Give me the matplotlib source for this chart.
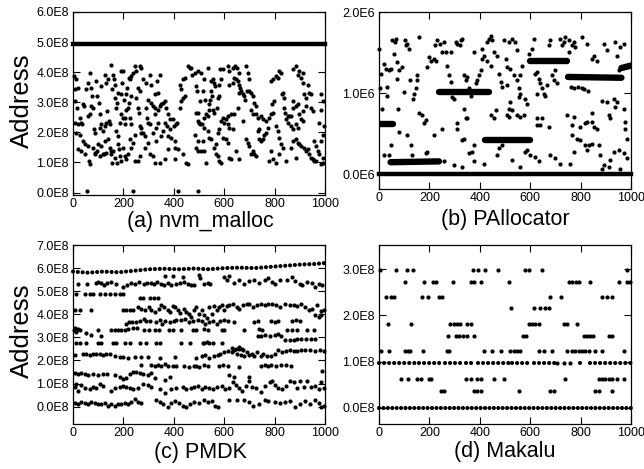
import matplotlib
matplotlib.use("Agg")
import matplotlib.pyplot as plt

plt.rcParams['font.family'] = ['Liberation Sans', 'DejaVu Sans']

# ---------------- (a) nvm_malloc, address in 1E8 ----------------
a_band_x = [0, 1000]
a_band_y = [4.95, 4.95]
a_pts = [
    (4, 3.87), (13, 3.76), (9, 3.43), (20, 3.48), (7, 3.04), (17, 2.82), (26, 2.49), (9, 2.32),
    (20, 2.27), (33, 2.32), (13, 1.99), (26, 1.93), (20, 1.44), (30, 1.38), (40, 1.71), (46, 1.60),
    (36, 2.27), (40, 2.93), (44, 2.87), (53, 3.43), (60, 3.65), (66, 3.98), (73, 3.48), (75, 3.20),
    (73, 2.87), (79, 2.82), (60, 2.54), (66, 2.60), (62, 1.05), (66, 0.94), (83, 2.10), (86, 1.99),
    (93, 3.70), (97, 3.20), (102, 2.98), (106, 2.60), (110, 3.54), (112, 2.27), (106, 2.15), (119, 2.04),
    (112, 1.55), (126, 2.21), (123, 1.27), (89, 1.27), (97, 1.38), (99, 1.60), (132, 2.32), (126, 3.92),
    (130, 3.65), (139, 3.76), (142, 2.38), (146, 2.27), (136, 2.71), (152, 1.38), (150, 1.27), (155, 3.43),
    (159, 3.92), (163, 3.76), (165, 3.59), (152, 4.25), (168, 3.15), (172, 2.82), (179, 1.60), (181, 1.44),
    (185, 1.22), (155, 0.99), (192, 4.03), (194, 3.65), (198, 4.03), (192, 2.60), (198, 2.49), (205, 2.27),
    (208, 2.49), (218, 2.82), (212, 2.76), (225, 2.49), (229, 2.27), (185, 2.32), (176, 2.98), (216, 3.48),
    (221, 3.81), (225, 3.76), (232, 3.87), (238, 3.98), (245, 4.20), (251, 4.03), (265, 4.20), (271, 4.14),
    (258, 3.48), (265, 3.37), (251, 3.15), (258, 2.82), (261, 2.65), (265, 2.21), (271, 2.15), (269, 1.99),
    (278, 1.99), (284, 1.88), (291, 2.82), (295, 2.49), (298, 2.32), (304, 2.27), (298, 3.09), (311, 2.98),
    (318, 2.87), (324, 2.82), (327, 2.60), (337, 2.76), (344, 2.87), (351, 2.93), (357, 2.98), (364, 3.04),
    (370, 2.82), (377, 2.60), (366, 2.32), (374, 2.21), (384, 2.10), (377, 1.88), (390, 1.82), (401, 2.21),
    (410, 2.27), (404, 1.71), (406, 1.49), (417, 1.44), (414, 2.32), (423, 2.82), (430, 3.04), (437, 3.15),
    (443, 3.20), (430, 3.43), (423, 3.59), (437, 3.76), (443, 3.81), (456, 4.20), (463, 4.14), (470, 4.14),
    (472, 3.92), (483, 3.98), (489, 3.54), (493, 3.37), (489, 2.65), (496, 2.38), (503, 2.27), (483, 1.93),
    (489, 1.49), (496, 1.38), (456, 0.94), (450, 0.99), (437, 1.27), (404, 1.10), (377, 1.44), (364, 1.10),
    (344, 0.99), (324, 0.99), (304, 1.27), (318, 1.22), (284, 1.49), (265, 1.22), (258, 1.05), (245, 1.05),
    (232, 1.49), (218, 1.27), (212, 1.10), (198, 1.49), (205, 1.22), (189, 1.05), (176, 0.99), (165, 1.16),
    (159, 1.38), (146, 1.49), (132, 1.33), (119, 1.27), (106, 1.22), (86, 1.33), (79, 1.49), (46, 1.27),
    (60, 1.55), (344, 3.92), (335, 3.70), (337, 3.31), (324, 3.26), (311, 3.59), (304, 3.92), (291, 3.65),
    (278, 3.76), (232, 3.20), (221, 2.98), (212, 3.26), (202, 3.09), (192, 3.26), (179, 3.31), (298, 1.66),
    (331, 1.71), (351, 1.88), (357, 2.04), (384, 2.43), (397, 2.43), (337, 2.32), (331, 2.15), (318, 1.99),
    (225, 1.77), (238, 1.66), (245, 1.93), (179, 1.88), (172, 2.04), (139, 1.77), (128, 1.71),
    (56, 0.05), (238, 0.05), (417, 0.05), (496, 0.05),
    (495, 4.03), (508, 3.98), (534, 4.14), (514, 3.37), (521, 3.76), (504, 3.04), (525, 3.09), (495, 2.65),
    (501, 2.32), (512, 2.27), (521, 2.49), (528, 2.60), (534, 2.54), (541, 2.93), (548, 3.70), (554, 3.76),
    (561, 3.65), (565, 3.54), (548, 3.37), (552, 3.20), (544, 3.09), (541, 2.76), (554, 2.76), (561, 2.65),
    (570, 2.82), (574, 3.15), (578, 3.20), (581, 3.59), (587, 3.76), (583, 4.09), (596, 4.09), (614, 4.20),
    (620, 4.03), (634, 4.14), (644, 4.20), (649, 4.14), (660, 3.98), (640, 3.81), (647, 3.76), (653, 3.70),
    (634, 3.65), (620, 3.59), (657, 3.59), (663, 3.48), (667, 3.37), (660, 3.31), (673, 3.26), (680, 3.20),
    (686, 4.20), (693, 3.98), (697, 3.76), (689, 3.37), (684, 3.09), (700, 3.37), (706, 3.31), (713, 3.20),
    (720, 2.98), (726, 2.87), (706, 2.76), (713, 2.60), (726, 2.60), (733, 2.49), (673, 2.38), (653, 2.82),
    (640, 2.60), (627, 2.60), (614, 2.54), (607, 2.43), (596, 2.49), (587, 2.38), (600, 2.32), (614, 2.27),
    (620, 2.15), (634, 2.10), (581, 2.10), (574, 1.99), (594, 1.82), (607, 1.77), (614, 1.66), (567, 1.60),
    (561, 1.49), (548, 1.77), (541, 1.82), (534, 2.04), (521, 2.15), (514, 1.71), (521, 1.38), (508, 1.38),
    (495, 1.71), (528, 0.99), (567, 1.27), (574, 1.22), (581, 1.05), (587, 0.99), (620, 1.16), (627, 1.10),
    (647, 1.38), (660, 1.10), (686, 1.77), (693, 1.66), (700, 1.55), (713, 1.38), (720, 1.27), (726, 1.22),
    (706, 1.27), (739, 1.77), (746, 1.71), (753, 1.77), (759, 1.93), (766, 1.99), (772, 2.15), (766, 2.38),
    (753, 2.43), (746, 2.54), (739, 2.10), (733, 2.04), (779, 2.49), (786, 2.60), (792, 2.65), (790, 2.93),
    (799, 3.04), (805, 2.21), (812, 2.04), (819, 1.82), (825, 1.60), (832, 1.49), (786, 1.38), (792, 1.10),
    (779, 1.05), (805, 0.99), (845, 1.05), (812, 3.81), (805, 3.87), (795, 3.76), (786, 3.70), (819, 4.03),
    (825, 3.98), (829, 3.26), (835, 3.31), (839, 3.15), (839, 2.82), (843, 2.65), (852, 2.54), (858, 2.54),
    (865, 2.54), (845, 2.43), (852, 2.32), (872, 3.04), (874, 2.82), (885, 2.87), (891, 2.93), (898, 2.60),
    (905, 2.43), (911, 2.38), (885, 2.27), (891, 2.15), (865, 2.21), (872, 2.10), (872, 1.71), (885, 1.77),
    (891, 1.66), (898, 1.60), (905, 1.55), (918, 1.49), (925, 1.38), (931, 1.44), (938, 1.27), (944, 1.16),
    (951, 1.10), (958, 1.05), (964, 1.05), (971, 1.38), (977, 1.27), (984, 0.94), (991, 0.99), (993, 1.16),
    (984, 1.71), (991, 1.93), (997, 2.21), (977, 2.32), (984, 2.76), (991, 3.04), (984, 3.26), (944, 3.26),
    (938, 3.31), (931, 3.59), (911, 3.65), (905, 3.81), (891, 3.92), (898, 4.03), (885, 4.20), (872, 4.09),
    (911, 3.98), (918, 3.26), (925, 3.15), (925, 2.87), (944, 2.82), (951, 2.71), (911, 2.71), (958, 1.71),
    (964, 1.55), (885, 1.16), (865, 1.49), (819, 1.27),
]
a_yticks = [0, 1, 2, 3, 4, 5, 6]

# ---------------- (b) PAllocator, address in 1E6 ----------------
b_band_x = [0, 1000]
b_band_y = [0.0, 0.0]
b_clu_x = [[0, 55], [46, 238], [238, 435], [420, 600], [598, 748], [750, 962], [962, 1000]]
b_clu_y = [[0.62, 0.62], [0.15, 0.16], [1.01, 1.01], [0.42, 0.42], [1.40, 1.40], [1.20, 1.19], [1.31, 1.34]]
b_pts = [
    (0, 1.55), (4, 1.06), (9, 1.24), (20, 1.36), (26, 1.30), (33, 1.08), (40, 1.28), (46, 1.30),
    (53, 1.65), (60, 1.48), (62, 1.63), (66, 1.67), (73, 1.38), (79, 1.28), (75, 0.81), (86, 0.16),
    (46, 0.36), (40, 0.24), (20, 0.24), (30, 0.97), (13, 0.81), (73, 1.18), (93, 1.32), (99, 1.01),
    (106, 1.59), (112, 1.61), (119, 1.55), (102, 1.66), (123, 1.16), (136, 0.93), (139, 0.99), (146, 1.06),
    (152, 1.22), (159, 1.69), (150, 1.16), (159, 0.75), (172, 0.73), (179, 0.63), (128, 0.36), (132, 0.24),
    (185, 0.26), (189, 0.28), (192, 1.32), (198, 1.44), (208, 1.40), (218, 1.42), (225, 1.40), (221, 1.59),
    (232, 1.65), (242, 1.61), (251, 1.51), (258, 1.63), (265, 1.51), (271, 1.34), (278, 1.22), (284, 1.14),
    (291, 0.95), (298, 0.93), (304, 1.63), (311, 1.61), (321, 1.59), (327, 1.65), (331, 1.67), (337, 1.22),
    (344, 1.16), (351, 1.20), (357, 1.06), (364, 0.97), (337, 0.81), (344, 0.69), (351, 0.69), (377, 1.03),
    (384, 1.12), (390, 1.16), (397, 1.22), (404, 1.28), (410, 1.42), (417, 1.46), (430, 1.63), (437, 1.67),
    (446, 1.71), (450, 1.65), (430, 1.40), (443, 1.34), (456, 1.51), (470, 1.46), (476, 1.24), (483, 1.14),
    (489, 1.08), (463, 0.79), (456, 0.69), (443, 0.73), (489, 0.36), (476, 0.32), (470, 0.24), (331, 0.09),
    (331, 0.42), (377, 0.36), (370, 0.28), (357, 0.26), (298, 0.11), (218, 0.48), (185, 0.67), (112, 0.48),
    (79, 0.52), (251, 0.56), (258, 0.16), (311, 0.56), (377, 0.16), (417, 0.13), (311, 0.63), (337, 0.44),
    (410, 1.55), (377, 1.51), (287, 1.51),
    (495, 1.65), (514, 1.63), (528, 1.67), (541, 1.63), (548, 1.53), (504, 1.42), (508, 1.32), (521, 1.30),
    (534, 1.22), (548, 1.16), (561, 1.22), (567, 1.34), (554, 1.06), (561, 0.99), (508, 1.10), (521, 0.89),
    (514, 0.81), (528, 0.79), (554, 0.95), (581, 0.93), (587, 0.87), (594, 1.48), (607, 1.55), (614, 1.67),
    (620, 1.24), (627, 1.26), (634, 1.18), (640, 1.12), (647, 1.06), (660, 0.97), (627, 0.99), (653, 0.99),
    (667, 1.10), (673, 1.59), (680, 1.65), (686, 1.22), (693, 1.16), (700, 1.28), (706, 1.12), (720, 1.67),
    (726, 1.59), (733, 1.63), (739, 1.69), (753, 1.65), (766, 1.59), (772, 1.63), (779, 1.57), (753, 1.51),
    (805, 1.69), (825, 1.61), (845, 1.42), (852, 1.46), (865, 1.40), (891, 1.61), (905, 1.53), (938, 1.63),
    (944, 1.46), (958, 1.57), (971, 1.61), (951, 1.28), (508, 0.73), (514, 0.71), (548, 0.73), (561, 0.71),
    (574, 0.73), (627, 0.69), (647, 0.69), (627, 0.61), (640, 0.61), (673, 0.58), (746, 0.73), (772, 0.71),
    (766, 0.61), (799, 0.58), (819, 0.63), (825, 0.65), (845, 0.65), (845, 0.75), (852, 0.58), (865, 0.56),
    (885, 0.91), (905, 0.89), (931, 0.93), (944, 0.89), (938, 0.83), (911, 0.73), (918, 0.69), (971, 0.81),
    (977, 0.56), (977, 0.65), (984, 0.44), (587, 0.30), (581, 0.28), (600, 0.24), (620, 0.22), (634, 0.16),
    (680, 0.24), (700, 0.20), (720, 0.13), (759, 0.13), (766, 0.48), (772, 0.28), (786, 0.44), (799, 0.42),
    (819, 0.36), (825, 0.30), (832, 0.36), (845, 0.38), (872, 0.36), (878, 0.24), (918, 0.18), (931, 0.28),
    (951, 0.30), (971, 0.26), (885, 0.07), (911, 0.09), (891, 0.11), (958, 0.07), (528, 0.18), (561, 0.09),
    (984, 0.20), (760, 1.08), (775, 1.07), (790, 1.08), (805, 1.06), (815, 1.05), (830, 1.03),
]
b_yticks = [0, 1, 2]

# ---------------- (c) PMDK, address in 1E8 ----------------
c_top_x = [0, 60, 120, 180, 240, 300, 360, 420, 480, 540, 600, 660, 720, 780, 840, 900, 960, 1000]
c_top_y = [5.85, 5.8, 5.85, 5.82, 5.88, 5.95, 5.97, 5.95, 5.98, 5.95, 6.0, 6.02, 6.0, 6.05, 6.1, 6.15, 6.18, 6.22]
c_pts = [
    # ~5.3 row
    (20, 5.3), (55, 5.3), (92, 5.35), (100, 5.4), (110, 5.35), (122, 5.25), (135, 5.35), (150, 5.4),
    (170, 5.3), (200, 5.2), (215, 5.25), (230, 5.35), (245, 5.3), (260, 5.4), (280, 5.3), (295, 5.35),
    (310, 5.35), (320, 5.3), (335, 5.4), (350, 5.3), (362, 5.25), (375, 5.35), (390, 5.25), (410, 5.3),
    (425, 5.35), (440, 5.4), (455, 5.3), (470, 5.25), (480, 5.25), (500, 5.7), (505, 5.55), (520, 5.3),
    (535, 5.35), (545, 5.3), (600, 5.6), (610, 5.5), (620, 5.65), (640, 5.35), (660, 5.5), (680, 5.3),
    (700, 5.45), (720, 5.5), (740, 5.35), (760, 5.5), (775, 5.55), (790, 5.4), (800, 5.3), (820, 5.5),
    (850, 5.5), (870, 5.6), (880, 5.45), (900, 5.3), (910, 5.25), (930, 5.4), (950, 5.35), (960, 5.2),
    (975, 5.3), (990, 5.25), (364, 5.65), (397, 5.65), (437, 5.6),
    # ~4.9 and ~4.7 rows
    (13, 4.9), (46, 4.9), (66, 4.9), (79, 4.9), (106, 4.9), (126, 4.9), (146, 4.9), (165, 4.9),
    (185, 4.9), (198, 4.9), (265, 4.69), (278, 4.69), (304, 4.69), (321, 4.69), (337, 4.69),
    # ~4.2 row
    (7, 4.18), (26, 4.2), (73, 4.2), (198, 4.2), (212, 4.2), (225, 4.2), (238, 4.2),
    (258, 4.3), (270, 4.25), (285, 4.2), (300, 4.3), (310, 4.2), (325, 4.1), (340, 4.25), (350, 4.4),
    (360, 4.3), (375, 4.2), (385, 4.1), (395, 4.35), (405, 4.3), (415, 4.2), (425, 4.05), (440, 4.25),
    (450, 4.1), (460, 4.0), (470, 3.9), (480, 4.2), (490, 4.3), (500, 4.0), (510, 4.2), (520, 3.95),
    (530, 3.85), (540, 4.3), (550, 4.0), (560, 4.35), (570, 4.2), (580, 4.3), (590, 4.4), (600, 4.2),
    (610, 4.35), (620, 4.4), (635, 4.45), (650, 4.3), (660, 4.25), (675, 4.4), (690, 4.45), (700, 4.45),
    (715, 4.3), (730, 4.4), (745, 4.45), (760, 4.4), (775, 4.45), (790, 4.45), (805, 4.4), (820, 4.3),
    (840, 4.45), (860, 4.4), (875, 4.4), (890, 4.35), (905, 4.45), (920, 4.3), (935, 4.2), (950, 4.25),
    (970, 4.4), (985, 4.15), (995, 4.2),
    # ~3.7 row
    (210, 3.6), (222, 3.65), (235, 3.65), (250, 3.65), (265, 3.7), (280, 3.8), (290, 3.7), (305, 3.7),
    (330, 3.65), (345, 3.75), (355, 3.6), (365, 3.7), (385, 3.65), (400, 3.7), (410, 3.75), (430, 3.75),
    (445, 3.8), (460, 3.65), (475, 3.7), (495, 3.75), (510, 3.7), (525, 3.6), (540, 3.65), (555, 3.7),
    (570, 3.6), (585, 3.7), (600, 3.75), (615, 3.7), (640, 3.65), (720, 3.65), (735, 3.7), (785, 3.7),
    (800, 3.65), (815, 3.7), (870, 3.7), (885, 3.75), (900, 3.7), (960, 3.95), (975, 3.9), (985, 3.95),
    # ~3.3 row
    (3, 3.3), (8, 3.4), (13, 3.25), (20, 3.35), (26, 3.3), (50, 3.2), (73, 3.1), (100, 3.3),
    (110, 3.05), (150, 3.3), (165, 3.3), (180, 3.3), (192, 3.3), (205, 3.3), (218, 3.35), (240, 3.4),
    (255, 3.4), (280, 3.3), (300, 3.3), (324, 3.3), (340, 3.3), (380, 3.3), (395, 3.3), (430, 3.3),
    (475, 3.3), (490, 3.3), (520, 3.35), (535, 3.3), (590, 3.3), (600, 3.3), (680, 3.3), (740, 3.35),
    (750, 3.3), (850, 3.3), (870, 3.3), (890, 3.3), (930, 3.3), (955, 3.3),
    # ~2.75 / ~3.0 rows
    (13, 2.75), (26, 2.75), (53, 2.75), (99, 2.75), (110, 2.75), (159, 2.75), (172, 2.75), (205, 2.75),
    (225, 2.75), (265, 2.75), (290, 2.75), (330, 2.75), (345, 2.75), (430, 2.75), (465, 2.75), (520, 2.75),
    (555, 2.75), (590, 2.75), (514, 2.75), (530, 2.8), (541, 2.75),
    (733, 3.05), (745, 3.05), (760, 3.1), (780, 3.05), (800, 3.1), (812, 3.15), (825, 3.05), (840, 2.9),
    (860, 2.9), (875, 2.9), (890, 2.95), (905, 2.95), (925, 2.95), (945, 2.95), (960, 2.95),
    # ~2.25 row
    (7, 2.25), (40, 2.3), (53, 2.3), (66, 2.25), (79, 2.3), (92, 2.3), (106, 2.3), (119, 2.25),
    (132, 2.3), (146, 2.3), (165, 2.2), (185, 2.15), (198, 2.15), (218, 2.1), (245, 2.15), (271, 2.15),
    (298, 2.15), (344, 2.1), (404, 2.15), (490, 2.1), (510, 2.2), (525, 2.25), (540, 2.1), (560, 2.2),
    (575, 2.25), (585, 2.3), (600, 2.35), (615, 2.4), (630, 2.35), (640, 2.45), (650, 2.3), (660, 2.5),
    (665, 2.25), (675, 2.45), (680, 2.2), (690, 2.35), (700, 2.25), (710, 2.3), (720, 2.2), (730, 2.35),
    (745, 2.2), (755, 2.3), (770, 2.2), (785, 2.2), (800, 2.3), (815, 2.45), (830, 2.35), (845, 2.4),
    (860, 2.45), (875, 2.4), (890, 2.4), (905, 2.45), (920, 2.45), (940, 2.45), (960, 2.4), (980, 2.45),
    (995, 2.4), (630, 2.55), (645, 2.5), (660, 2.6), (670, 2.5),
    # ~1.75 row
    (271, 1.8), (311, 1.8), (324, 1.75), (337, 1.8), (351, 1.75), (364, 1.85), (377, 1.75), (397, 1.75),
    (410, 1.75), (440, 1.75), (460, 1.7), (480, 1.75), (488, 1.75), (500, 1.7), (520, 1.8), (535, 1.75),
    (580, 1.75), (594, 1.8), (614, 1.75), (660, 1.7), (745, 1.75), (760, 1.8), (772, 1.75), (786, 1.8),
    (805, 1.75), (825, 1.8), (845, 1.8), (865, 1.75), (990, 1.55), (620, 1.35), (640, 1.3), (700, 1.3),
    # ~1.4 row
    (7, 1.45), (20, 1.4), (33, 1.45), (46, 1.4), (60, 1.35), (79, 1.4), (99, 1.35), (119, 1.4),
    (136, 1.4), (165, 1.35), (185, 1.3), (198, 1.2), (212, 1.25), (225, 1.4), (238, 1.5), (251, 1.5),
    (265, 1.45), (278, 1.4), (298, 1.35), (311, 1.45), (327, 1.25), (364, 1.15), (384, 1.3),
    # ~0.85 row
    (7, 0.85), (13, 1.0), (20, 0.7), (33, 0.95), (46, 0.8), (66, 0.75), (79, 0.85), (92, 0.8),
    (106, 1.0), (119, 0.9), (150, 0.7), (165, 0.8), (185, 0.85), (198, 0.9), (212, 0.85), (225, 0.8),
    (238, 0.75), (258, 0.8), (278, 1.0), (298, 0.95), (311, 0.85), (344, 0.75), (364, 0.6), (390, 0.75),
    (410, 0.8), (437, 0.85), (450, 0.75), (470, 0.8), (480, 0.85), (495, 0.9), (510, 0.75), (525, 0.85),
    (540, 0.8), (555, 0.75), (570, 0.85), (590, 0.9), (605, 0.75), (620, 0.8), (635, 1.05), (645, 0.95),
    (660, 0.8), (670, 0.7), (685, 0.9), (700, 1.1), (710, 0.85), (725, 0.8), (745, 0.65), (760, 0.9),
    (780, 1.05), (790, 1.1), (800, 0.95), (815, 0.8), (830, 0.75), (845, 0.9), (860, 1.1), (875, 1.05),
    (890, 0.8), (900, 1.1), (915, 0.85), (930, 1.1), (945, 0.85), (960, 0.9), (975, 0.75), (985, 1.05),
    (995, 0.8),
    # ~0.1 row
    (7, 0.15), (20, 0.1), (33, 0.2), (46, 0.15), (60, 0.1), (73, 0.2), (86, 0.15), (99, 0.1),
    (112, 0.1), (125, 0.15), (138, 0.05), (152, 0.1), (165, 0.05), (178, 0.1), (192, 0.1), (205, 0.15),
    (218, 0.1), (232, 0.2), (245, 0.35), (258, 0.2), (271, 0.15), (330, 0.3), (345, 0.2), (358, 0.1),
    (375, 0.0), (390, 0.15), (405, 0.25), (420, 0.15), (435, 0.05), (450, 0.0), (465, 0.1), (480, 0.2),
    (500, 0.15), (520, 0.3), (535, 0.2), (550, 0.25), (565, 0.05), (575, 0.0), (620, 0.3), (650, 0.3),
    (680, 0.3), (700, 0.2), (715, 0.05), (740, 0.1), (760, 0.3), (775, 0.25), (800, 0.2), (820, 0.15),
    (840, 0.2), (860, 0.25), (880, 0.0), (900, 0.1), (920, 0.25), (940, 0.1), (960, 0.3), (975, 0.15),
    (985, 0.0), (995, 0.05),
]
c_yticks = [0, 1, 2, 3, 4, 5, 6, 7]

# ---------------- (d) Makalu, address in 1E8 ----------------
d_row_y = [2.99, 2.73, 2.40, 2.15, 1.82, 1.55, 1.23, 0.63, 0.37]
d_row_x = [
    [5, 66, 112, 136, 374, 393, 419, 472, 581, 594, 647, 984],
    [102, 179, 216, 225, 294, 364, 377, 404, 517, 753, 766, 782, 795, 839, 951, 984, 995],
    [26, 46, 60, 172, 194, 238, 251, 680, 723, 885, 905, 925],
    [525, 614, 640, 660, 673],
    [36, 126, 282, 298, 311, 321, 348, 364, 594, 607, 620, 634, 733, 746, 786],
    [274, 304, 318, 335, 351, 377, 570, 583, 812, 825, 838, 851, 911, 925],
    [9, 40, 102, 115, 123, 176, 269, 276, 417, 450, 483, 521, 534, 548, 561, 634, 653, 686,
     746, 766, 779, 792, 805, 819, 832, 858, 885, 971],
    [89, 115, 152, 165, 198, 208, 344, 364, 390, 404, 456, 496, 739, 872, 885, 898, 912, 925, 944, 971],
    [245, 258, 377, 390, 404, 554, 680, 693, 858, 872, 925],
]
# dense runs of points along 0.97E8 and 0
d_run_y = 0.97
d_run_x = [(0, 146), (158, 252), (262, 292), (302, 336), (346, 380), (392, 514), (528, 594),
           (614, 700), (706, 706), (733, 733), (759, 759), (799, 819), (839, 1000)]
d_zero_x = [0, 1000]
d_zero_y = [0.0, 0.0]
d_yticks = [0, 1, 2, 3]

# ---------------- drawing ----------------
W, H = 644, 469
DOT = dict(ls='none', marker='o', ms=3.0, mew=0, color='black', clip_on=False)
BEAD = dict(color='black', lw=3.0, dash_capstyle='round', clip_on=False)


def box(l, t, r, b):
    return [l / W, 1 - b / H, (r - l) / W, (b - t) / H]


def style(ax, ylim, yticks, unit):
    ax.set_xlim(0, 1000)
    ax.set_ylim(*ylim)
    ax.set_xticks(range(0, 1001, 200))
    ax.set_yticks(yticks)
    ax.set_yticklabels([f'{v:.1f}{unit}' for v in yticks])
    ax.tick_params(direction='in', top=True, right=True, length=5, width=0.8,
                   labelsize=9, pad=3, colors='black')
    ax.tick_params(axis='x', pad=2.5)
    for s in ax.spines.values():
        s.set_linewidth(0.9)


fig = plt.figure(figsize=(6.44, 4.69), dpi=100)

# (a)
ax = fig.add_axes(box(73, 12, 325, 195))
ax.plot(a_band_x, a_band_y, color='black', lw=3.2, clip_on=False)
ax.plot([p[0] for p in a_pts], [p[1] for p in a_pts], **DOT)
style(ax, (-0.08, 6.0), a_yticks, 'E8')

# (b)
ax = fig.add_axes(box(379, 12, 631, 189))
ax.plot(b_band_x, b_band_y, color='black', lw=3.2, clip_on=False)
for xs, ys in zip(b_clu_x, b_clu_y):
    ax.plot(xs, ys, color='black', lw=4.6, solid_capstyle='round')
ax.plot([p[0] for p in b_pts], [p[1] for p in b_pts], **DOT)
style(ax, (-0.18, 2.0), b_yticks, 'E6')

# (c)
ax = fig.add_axes(box(73, 245, 325, 424))
ax.plot(c_top_x, c_top_y, ls=(0, (0.01, 1.15)), **BEAD)
ax.plot([p[0] for p in c_pts], [p[1] for p in c_pts], **DOT)
style(ax, (-0.75, 7.0), c_yticks, 'E8')

# (d)
ax = fig.add_axes(box(379, 245, 631, 424))
ax.plot(d_zero_x, d_zero_y, ls=(0, (0.01, 1.05)), **BEAD)
for x0, x1 in d_run_x:
    if x0 == x1:
        ax.plot([x0], [d_run_y], **DOT)
    else:
        ax.plot([x0, x1], [d_run_y, d_run_y], ls=(0, (0.01, 1.2)), **BEAD)
for y, xs in zip(d_row_y, d_row_x):
    ax.plot(xs, [y] * len(xs), **DOT)
style(ax, (-0.35, 3.52), d_yticks, 'E8')

# captions and y labels
for txt, cx, cy in [('(a) nvm_malloc', 200, 222), ('(b) PAllocator', 505, 219),
                    ('(c) PMDK', 200, 452), ('(d) Makalu', 505, 451)]:
    fig.text(cx / W, 1 - cy / H, txt, ha='center', va='center', fontsize=15.5)
for cy in (101, 331):
    fig.text(22 / W, 1 - cy / H, 'Address', rotation=90, ha='center', va='center', fontsize=18.5)

fig.savefig('out.png', dpi=100)
